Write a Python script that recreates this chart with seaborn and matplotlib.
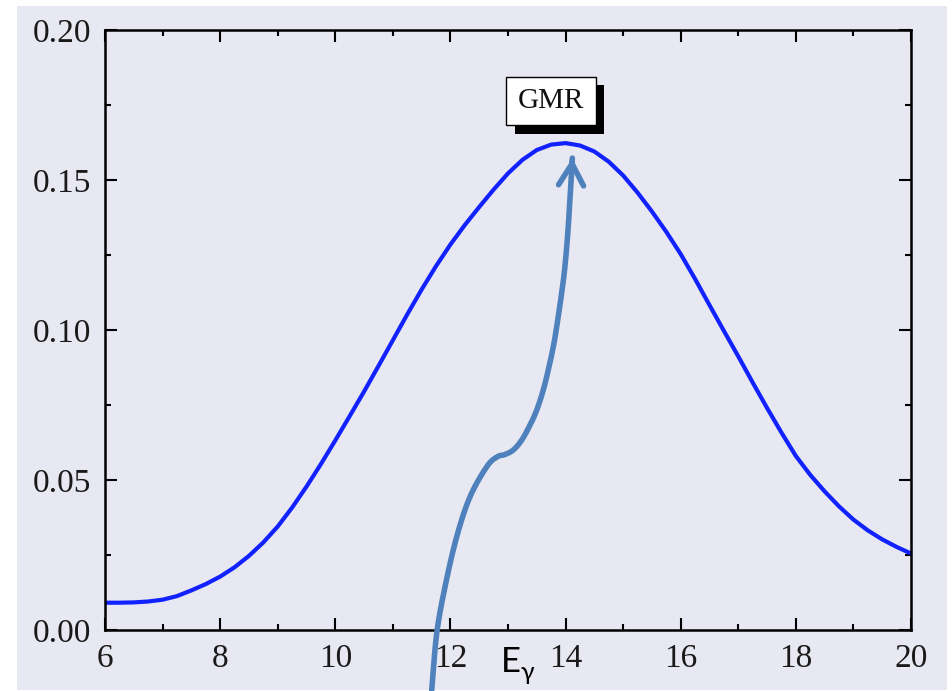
import numpy as np
import pandas as pd
import matplotlib
matplotlib.use("Agg")
import matplotlib.pyplot as plt
import seaborn as sns
from matplotlib.patches import Rectangle
from matplotlib.ticker import MultipleLocator

# ---- data ----
energy = [6.0, 6.25, 6.5, 6.75, 7.0, 7.25, 7.5, 7.75, 8.0, 8.25, 8.5, 8.75, 9.0, 9.25,
          9.5, 9.75, 10.0, 10.25, 10.5, 10.75, 11.0, 11.25, 11.5, 11.75, 12.0, 12.25,
          12.5, 12.75, 13.0, 13.25, 13.5, 13.75, 14.0, 14.25, 14.5, 14.75, 15.0, 15.25,
          15.5, 15.75, 16.0, 16.25, 16.5, 16.75, 17.0, 17.25, 17.5, 17.75, 18.0, 18.25,
          18.5, 18.75, 19.0, 19.25, 19.5, 19.75, 20.0]
strength = [0.0091, 0.0091, 0.0092, 0.0095, 0.0101, 0.0113, 0.0132, 0.0153, 0.0178,
            0.0209, 0.0247, 0.0292, 0.0345, 0.0408, 0.0478, 0.0553, 0.0632, 0.0713,
            0.0795, 0.0880, 0.0966, 0.1052, 0.1135, 0.1213, 0.1285, 0.1350, 0.1410,
            0.1468, 0.1522, 0.1567, 0.1600, 0.1618, 0.1623, 0.1615, 0.1595, 0.1561,
            0.1515, 0.1458, 0.1395, 0.1327, 0.1253, 0.1170, 0.1083, 0.0997, 0.0912,
            0.0825, 0.0740, 0.0658, 0.0580, 0.0517, 0.0462, 0.0412, 0.0368, 0.0332,
            0.0302, 0.0277, 0.0255]
x_ticks = [6, 8, 10, 12, 14, 16, 18, 20]
y_ticks = [0.00, 0.05, 0.10, 0.15, 0.20]
y_tick_labels = ["0.00", "0.05", "0.10", "0.15", "0.20"]
box_label = "GMR"
x_label_main = "E"
x_label_sub = "γ"

# annotation arrow guide points (data coordinates)
arrow_x = [11.675, 11.762, 11.906, 12.109, 12.340, 12.630, 12.809, 12.948, 13.092,
           13.238, 13.382, 13.499, 13.613, 13.700, 13.787, 13.846, 13.915, 13.973,
           14.020, 14.054, 14.082, 14.103, 14.117]
arrow_y = [-0.0200, -0.0011, 0.0144, 0.0311, 0.0444, 0.0544, 0.0577, 0.0585, 0.0600,
           0.0633, 0.0683, 0.0733, 0.0800, 0.0867, 0.0944, 0.1011, 0.1100, 0.1183,
           0.1277, 0.1367, 0.1457, 0.1517, 0.1573]


def smooth_path(xs, ys, n=12):
    """Catmull-Rom smoothing of the annotation guide (display helper only)."""
    P = np.column_stack([xs, ys]).astype(float)
    P = np.vstack([P[0] - (P[1] - P[0]), P, P[-1] + (P[-1] - P[-2])])
    out = []
    for i in range(1, len(P) - 2):
        p0, p1, p2, p3 = P[i - 1], P[i], P[i + 1], P[i + 2]
        for t in np.linspace(0, 1, n, endpoint=False):
            t2, t3 = t * t, t * t * t
            out.append(0.5 * ((2 * p1) + (-p0 + p2) * t + (2 * p0 - 5 * p1 + 4 * p2 - p3) * t2
                              + (-p0 + 3 * p1 - 3 * p2 + p3) * t3))
    out.append(P[-2])
    return np.array(out)


df = pd.DataFrame({"E": energy, "S": strength})

sns.set_theme(style="darkgrid")
plt.rcParams["font.family"] = ["Liberation Serif", "DejaVu Serif"]

LAV = "#E8E8F2"
fig = plt.figure(figsize=(9.52, 6.91), dpi=100, facecolor="white")
fig.patches.append(Rectangle((17 / 952, 1 / 691), 930 / 952, 684 / 691,
                             transform=fig.transFigure, facecolor=LAV,
                             edgecolor="none", zorder=-10))
ax = fig.add_axes([105 / 952, 1 - 630 / 691, 806 / 952, 600 / 691])
ax.set_facecolor(LAV)
ax.grid(False)

sns.lineplot(data=df, x="E", y="S", ax=ax, color="#1222FF", linewidth=3.0)
for ln in ax.get_lines():
    ln.set_solid_joinstyle("round")

ax.set_xlim(6, 20)
ax.set_ylim(0, 0.20)
ax.set_xticks(x_ticks)
ax.set_xticklabels([str(t) for t in x_ticks])
ax.set_yticks(y_ticks)
ax.set_yticklabels(y_tick_labels)
ax.xaxis.set_minor_locator(MultipleLocator(1))
ax.yaxis.set_minor_locator(MultipleLocator(0.025))
ax.set_xlabel("")
ax.set_ylabel("")

for s in ax.spines.values():
    s.set_visible(True)
    s.set_color("black")
    s.set_linewidth(1.8)

ax.tick_params(which="both", direction="in", top=True, right=True, bottom=True,
               left=True, colors="black", width=1.5)
ax.tick_params(which="major", length=8.6, labelsize=24, pad=10)
ax.tick_params(which="minor", length=4.6)
for lab in ax.get_xticklabels() + ax.get_yticklabels():
    lab.set_color("#1a1a1a")

# GMR box with shadow
ax.add_patch(Rectangle((13.13, 0.1653), 1.543, 0.0164, facecolor="black",
                       edgecolor="none", zorder=5, clip_on=False))
ax.add_patch(Rectangle((12.965, 0.1683), 1.558, 0.0161, facecolor="white",
                       edgecolor="black", linewidth=1.0, zorder=6, clip_on=False))
ax.text(13.744, 0.1763, box_label, ha="center", va="center", fontsize=21,
        color="#111111", zorder=7)

# curved arrow
pts = smooth_path(arrow_x, arrow_y)
ax.plot(pts[:, 0], pts[:, 1], color="#4F81BD", linewidth=4.0, solid_capstyle="round",
        solid_joinstyle="round", clip_on=False, zorder=10)
ax.annotate("", xy=tuple(pts[-1]), xytext=tuple(pts[-5]),
            arrowprops=dict(arrowstyle="->,head_length=1.3,head_width=0.75",
                            color="#4F81BD", lw=4.0, capstyle="round",
                            joinstyle="round", shrinkA=0, shrinkB=0),
            annotation_clip=False, zorder=10)

# E_gamma label
fig.text(501 / 952, 1 - 672 / 691, x_label_main, fontsize=25,
         family=["Lato", "DejaVu Sans"], color="black", ha="left", va="baseline")
fig.text(521 / 952, 1 - 680 / 691, x_label_sub, fontsize=18,
         family=["Lato", "DejaVu Sans"], color="black", ha="left", va="baseline")

fig.savefig("out.png", dpi=100, facecolor="white")
